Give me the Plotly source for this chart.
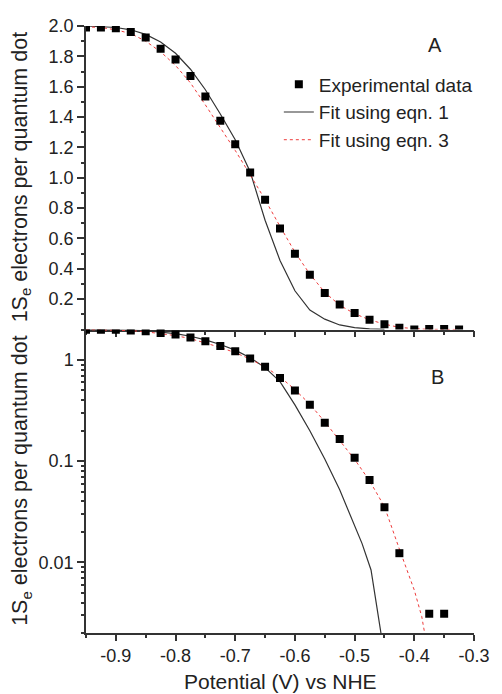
import math
import plotly.graph_objects as go

# ---------------- data ----------------
potential = [-0.95, -0.925, -0.9, -0.875, -0.85, -0.825, -0.8, -0.775, -0.75, -0.725,
             -0.7, -0.675, -0.65, -0.625, -0.6, -0.575, -0.55, -0.525, -0.5, -0.475,
             -0.45, -0.425, -0.4, -0.375, -0.35, -0.325]
electrons = [1.99, 1.99, 1.985, 1.96, 1.925, 1.85, 1.78, 1.67, 1.535, 1.375,
             1.22, 1.035, 0.855, 0.665, 0.50, 0.36, 0.24, 0.165, 0.108, 0.065,
             0.035, 0.0123, 0.0, 0.0031, 0.0031, 0.0]

# eqn. 1 fit as drawn in panel A (linear)
fit1_lin_x = [-0.95, -0.925, -0.9, -0.875, -0.85, -0.825, -0.8, -0.775, -0.75, -0.725,
              -0.7, -0.675, -0.65, -0.625, -0.6, -0.575, -0.55, -0.525, -0.5, -0.475,
              -0.45]
fit1_lin_y = [2.0, 1.997, 1.99, 1.975, 1.945, 1.895, 1.82, 1.715, 1.58, 1.42,
              1.25, 1.04, 0.72, 0.455, 0.255, 0.128, 0.068, 0.03, 0.012, 0.004,
              0.001]
# eqn. 1 fit as drawn in panel B (log)
fit1_log_x = [-0.95, -0.925, -0.9, -0.875, -0.85, -0.825, -0.8, -0.775, -0.75, -0.725,
              -0.7, -0.675, -0.65, -0.625, -0.6, -0.575, -0.55, -0.525, -0.5, -0.4875,
              -0.4725, -0.45]
fit1_log_y = [2.0, 1.997, 1.99, 1.975, 1.945, 1.895, 1.82, 1.715, 1.58, 1.42,
              1.25, 1.05, 0.84, 0.61, 0.36, 0.2, 0.105, 0.052, 0.0235, 0.0153,
              0.0084, 0.0012]

fit3_x = [-0.95, -0.925, -0.9, -0.875, -0.85, -0.825, -0.8, -0.775, -0.75, -0.725,
          -0.7, -0.675, -0.65, -0.625, -0.6, -0.575, -0.55, -0.525, -0.5, -0.475,
          -0.45, -0.425, -0.4125, -0.4, -0.3875, -0.375, -0.35, -0.325]
fit3_y = [1.995, 1.99, 1.975, 1.95, 1.90, 1.83, 1.74, 1.625, 1.48, 1.33,
          1.18, 1.02, 0.855, 0.68, 0.51, 0.365, 0.245, 0.16, 0.104, 0.064,
          0.0355, 0.0135, 0.0085, 0.0053, 0.0029, 0.0011, 0.0003, 0.0001]

x_tick_vals = [-0.9, -0.8, -0.7, -0.6, -0.5, -0.4, -0.3]
x_tick_text = ["-0.9", "-0.8", "-0.7", "-0.6", "-0.5", "-0.4", "-0.3"]
y_lin_tick_vals = [0.2, 0.4, 0.6, 0.8, 1.0, 1.2, 1.4, 1.6, 1.8, 2.0]
y_lin_tick_text = ["0.2", "0.4", "0.6", "0.8", "1.0", "1.2", "1.4", "1.6", "1.8", "2.0"]
y_log_tick_vals = [0.01, 0.1, 1]
y_log_tick_text = ["0.01", "0.1", "1"]

series_names = ["Experimental data", "Fit using eqn. 1", "Fit using eqn. 3"]
y_title = "1S<sub>e</sub> electrons per quantum dot"
x_title = "Potential (V) vs NHE"

# ---------------- styling ----------------
FONT = "Liberation Sans, Arial, sans-serif"
TXT = "#222222"
AX = "#333333"
BLACK_LINE = "#333333"
RED_LINE = "#ee3b3b"

fig = go.Figure()

def positive(xs, ys):
    pts = [(a, b) for a, b in zip(xs, ys) if b > 0]
    return [p[0] for p in pts], [p[1] for p in pts]

# top (linear) panel
fig.add_trace(go.Scatter(x=fit1_lin_x, y=fit1_lin_y, mode="lines", name=series_names[1],
                         line=dict(color=BLACK_LINE, width=1.2), legendrank=2,
                         xaxis="x", yaxis="y"))
fig.add_trace(go.Scatter(x=fit3_x, y=fit3_y, mode="lines", name=series_names[2],
                         line=dict(color=RED_LINE, width=1, dash="dot"), legendrank=3,
                         xaxis="x", yaxis="y"))
fig.add_trace(go.Scatter(x=potential, y=electrons, mode="markers", name=series_names[0],
                         marker=dict(symbol="square", size=8, color="black"), legendrank=1,
                         xaxis="x", yaxis="y"))

# bottom (log) panel
fx, fy = positive(fit1_log_x, fit1_log_y)
fig.add_trace(go.Scatter(x=fx, y=fy, mode="lines", showlegend=False,
                         line=dict(color=BLACK_LINE, width=1.2), xaxis="x2", yaxis="y2"))
fx, fy = positive(fit3_x, fit3_y)
fig.add_trace(go.Scatter(x=fx, y=fy, mode="lines", showlegend=False,
                         line=dict(color=RED_LINE, width=1, dash="dot"), xaxis="x2", yaxis="y2"))
px_, py_ = positive(potential, electrons)
fig.add_trace(go.Scatter(x=px_, y=py_, mode="markers", showlegend=False,
                         marker=dict(symbol="square", size=8, color="black"),
                         xaxis="x2", yaxis="y2"))

axis_common = dict(showline=True, linecolor=AX, linewidth=1.5, ticks="outside",
                   tickcolor=AX, tickwidth=1.5, showgrid=False, zeroline=False,
                   tickfont=dict(family=FONT, size=18, color=TXT))

log_minor = []
for dec in [0.001, 0.01, 0.1, 1]:
    for m in range(2, 10):
        log_minor.append(m * dec)

fig.update_layout(
    width=502, height=694,
    margin=dict(l=86, r=18, t=26, b=61),
    paper_bgcolor="white", plot_bgcolor="white",
    font=dict(family=FONT, color=TXT),
    xaxis=dict(domain=[0, 1], anchor="y", range=[-0.95, -0.3], tickmode="array",
               tickvals=x_tick_vals, showticklabels=False, ticklen=6,
               minor=dict(tickmode="linear", tick0=-0.95, dtick=0.05, ticks="outside",
                          ticklen=3.5, tickcolor=AX, tickwidth=1.5),
               **axis_common),
    yaxis=dict(domain=[0.5, 1], anchor="x", range=[0, 2.0], tickmode="array",
               tickvals=y_lin_tick_vals, ticktext=y_lin_tick_text, ticklen=7,
               minor=dict(tickmode="linear", tick0=0, dtick=0.1, ticks="outside",
                          ticklen=3.5, tickcolor=AX, tickwidth=1.5),
               **axis_common),
    xaxis2=dict(domain=[0, 1], anchor="y2", range=[-0.95, -0.3], tickmode="array",
                tickvals=x_tick_vals, ticktext=x_tick_text, ticklen=6,
                minor=dict(tickmode="linear", tick0=-0.95, dtick=0.05, ticks="outside",
                           ticklen=3.5, tickcolor=AX, tickwidth=1.5),
                **axis_common),
    yaxis2=dict(domain=[0, 0.5], anchor="x2", type="log",
                range=[math.log10(0.002), math.log10(2.0)], tickmode="array",
                tickvals=y_log_tick_vals, ticktext=y_log_tick_text, ticklen=7,
                minor=dict(tickmode="array", tickvals=log_minor, ticks="outside",
                           ticklen=3.5, tickcolor=AX, tickwidth=1.5),
                **axis_common),
    legend=dict(x=0.497, y=0.935, xanchor="left", yanchor="top",
                bgcolor="rgba(0,0,0,0)", borderwidth=0,
                font=dict(family=FONT, size=19, color=TXT),
                tracegroupgap=0, itemwidth=30),
    showlegend=True,
)

annotations = [
    dict(text=y_title, x=-0.166, y=0.75, xref="paper", yref="paper", textangle=-90,
         showarrow=False, xanchor="center", yanchor="middle",
         font=dict(family=FONT, size=21.5, color=TXT)),
    dict(text=y_title, x=-0.166, y=0.25, xref="paper", yref="paper", textangle=-90,
         showarrow=False, xanchor="center", yanchor="middle",
         font=dict(family=FONT, size=21.5, color=TXT)),
    dict(text=x_title, x=0.5, y=-(681 - 633) / 607, xref="paper", yref="paper",
         showarrow=False, xanchor="center", yanchor="middle",
         font=dict(family=FONT, size=21, color=TXT)),
    dict(text="A", x=(444 - 86) / 398, y=1 - (45 - 26) / 607, xref="paper", yref="paper",
         showarrow=False, xanchor="center", yanchor="middle",
         font=dict(family=FONT, size=20, color=TXT)),
    dict(text="B", x=(447 - 86) / 398, y=1 - (377 - 26) / 607, xref="paper", yref="paper",
         showarrow=False, xanchor="center", yanchor="middle",
         font=dict(family=FONT, size=20, color=TXT)),
]
fig.update_layout(annotations=annotations)

fig.write_html("out.html", config={"displayModeBar": False},
               post_script="document.body.style.margin='0px';")
